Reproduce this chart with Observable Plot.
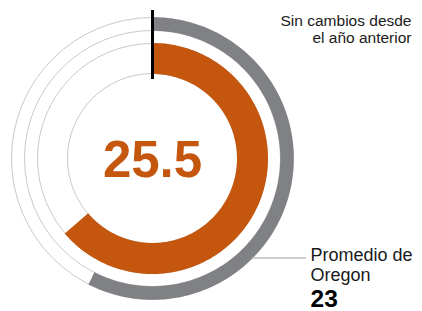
<!DOCTYPE html>
<html><head><meta charset="utf-8">
<script src="https://cdn.jsdelivr.net/npm/d3@7"></script>
<script src="https://cdn.jsdelivr.net/npm/@observablehq/plot@0.6"></script>
<style>html,body{margin:0;padding:0;background:#fff} svg{display:block}</style>
</head><body><div id="chart"></div>
<script>
// ---- data ----
const series = ["Escuela", "Promedio de Oregon"];
const values = [25.5, 23];
const scaleMax = 40;
const centerLabel = "25.5";
const oregonLabel = "Promedio de\nOregon";
const oregonValue = "23";
const changeLabel = "Sin cambios desde\nel año anterior";
const colors = ["#c4560e", "#808185"];

// ---- layout ----
const W = 422, H = 311, cx = 152, cy = 158;
const bandRadius = [100, 134.5];
const bandWidth = [31, 13.5];
const guideRadii = [141, 128, 115, 85];
const font = "Liberation Sans, Arial, Helvetica, sans-serif";

const angle = d3.scaleLinear().domain([0, scaleMax]).range([0, 2 * Math.PI]);
function arcPoints(value, r, key) {
  const n = Math.max(2, Math.ceil(value / scaleMax * 360));
  return d3.range(n + 1).map(i => {
    const a = angle(value * i / n);
    return {key, x: r * Math.sin(a), y: -r * Math.cos(a)};
  });
}
const arcs = series.map((s, i) => ({s, pts: arcPoints(values[i], bandRadius[i], s), color: colors[i], w: bandWidth[i]}));

const chart = Plot.plot({
  width: W, height: H,
  margin: 0,
  x: {type: "linear", domain: [-cx, W - cx], range: [0, W], axis: null},
  y: {type: "linear", domain: [-cy, H - cy], range: [0, H], axis: null},
  r: {type: "identity"},
  style: {fontFamily: font, background: "#fff"},
  marks: [
    Plot.dot(guideRadii, {x: () => 0, y: () => 0, r: d => d, stroke: "#c9c9c9", strokeWidth: 1, fill: "none"}),
    // gray (Oregon) then orange (school)
    Plot.line(arcs[1].pts, {x: "x", y: "y", stroke: arcs[1].color, strokeWidth: arcs[1].w, strokeLinecap: "butt", strokeLinejoin: "round"}),
    Plot.line(arcs[0].pts, {x: "x", y: "y", stroke: arcs[0].color, strokeWidth: arcs[0].w, strokeLinecap: "butt", strokeLinejoin: "round"}),
    Plot.ruleX([0], {y1: -148, y2: -79, stroke: "#000", strokeWidth: 3}),
    Plot.ruleY([99.5], {x1: 100, x2: 154, stroke: "#bdbdbd", strokeWidth: 1.5}),
    Plot.text([centerLabel], {x: 0, y: 140.5 - cy, text: d => d, lineAnchor: "top", textAnchor: "middle", fontSize: 51, fontWeight: "bold", fill: colors[0], fontFamily: font}),
    Plot.text([changeLabel], {x: 411 - cx, y: 13.3 - cy, text: d => d, lineAnchor: "top", textAnchor: "end", fontSize: 15.5, lineHeight: 1.12, fill: "#1a1a1a", fontFamily: font}),
    Plot.text([oregonLabel], {x: 310 - cx, y: 246 - cy, text: d => d, lineAnchor: "top", textAnchor: "start", fontSize: 18, lineHeight: 1.11, fill: "#1a1a1a", fontFamily: font}),
    Plot.text([oregonValue], {x: 310 - cx, y: 289 - cy, text: d => d, lineAnchor: "top", textAnchor: "start", fontSize: 24.5, fontWeight: "bold", fill: "#000", fontFamily: font})
  ]
});
document.getElementById("chart").appendChild(chart);
</script>
</body></html>
